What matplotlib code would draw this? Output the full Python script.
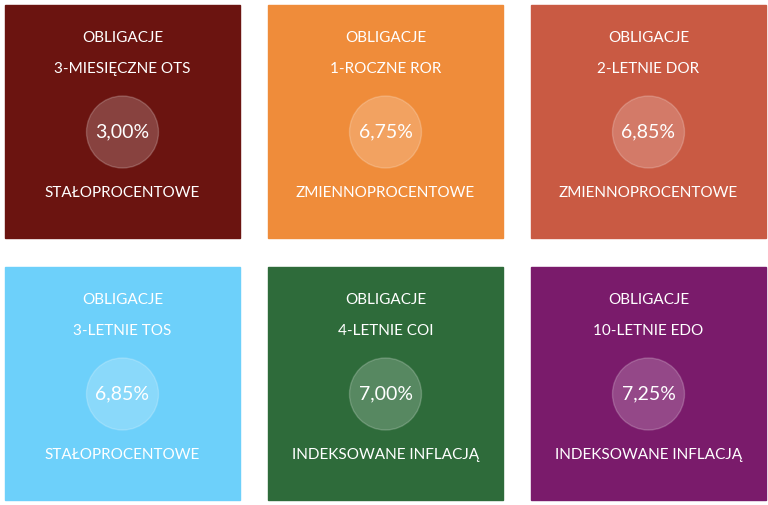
import matplotlib.pyplot as plt
from matplotlib.patches import Rectangle, Circle

names = ["3-MIESIĘCZNE OTS", "1-ROCZNE ROR", "2-LETNIE DOR",
         "3-LETNIE TOS", "4-LETNIE COI", "10-LETNIE EDO"]
rates = [3.00, 6.75, 6.85, 6.85, 7.00, 7.25]
kinds = ["STAŁOPROCENTOWE", "ZMIENNOPROCENTOWE", "ZMIENNOPROCENTOWE",
         "STAŁOPROCENTOWE", "INDEKSOWANE INFLACJĄ", "INDEKSOWANE INFLACJĄ"]
colors = ["#6b1410", "#ef8c3a", "#c95a43", "#6dd0fa", "#2e6b3a", "#7a1b6b"]

fig = plt.figure(figsize=(7.68, 5.05), dpi=100)
ax = fig.add_axes([0, 0, 1, 1])
ax.set_xlim(0, 768)
ax.set_ylim(505, 0)
ax.axis("off")

col_x = [5, 268, 531]
row_y = [5, 267]
w, h = 235, 233

for i, (name, rate, kind, c) in enumerate(zip(names, rates, kinds, colors)):
    x0 = col_x[i % 3]
    y0 = row_y[i // 3]
    cx = x0 + w / 2
    ax.add_patch(Rectangle((x0, y0), w, h, color=c))
    ax.add_patch(Circle((cx, y0 + 127), 36, color="white", alpha=0.2))
    style = dict(color="white", ha="center", va="center", family="Lato")
    ax.text(cx, y0 + 33, "OBLIGACJE", fontsize=11, **style)
    ax.text(cx, y0 + 64, name, fontsize=11, **style)
    ax.text(cx, y0 + 127, f"{rate:.2f}%".replace(".", ","), fontsize=14, **style)
    ax.text(cx, y0 + 188, kind, fontsize=11, **style)

fig.savefig("out.png", dpi=100)
